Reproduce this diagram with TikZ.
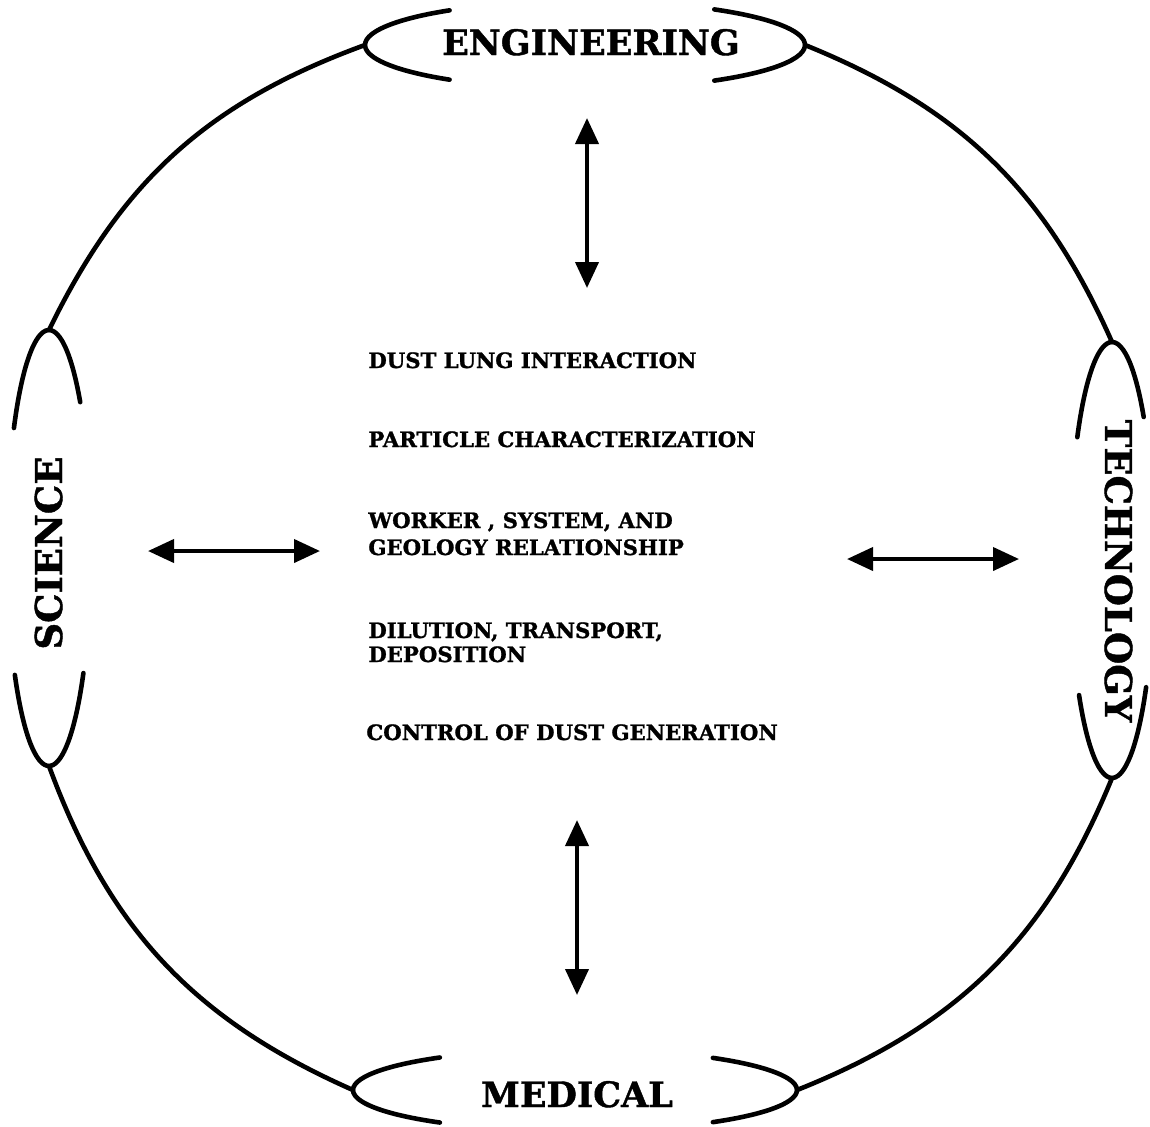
\documentclass[tikz,border=0pt]{standalone}
\usepackage{fontspec}
\setmainfont{DejaVu Serif}[BoldFeatures={FakeBold=1.2}]
\usetikzlibrary{arrows.meta}
\begin{document}
\begin{tikzpicture}[x=0.5pt,y=0.5pt,
  rim/.style={line width=2.3pt, line cap=round},
  dbl/.style={line width=2pt, {Triangle[length=13pt,width=11.5pt]}-{Triangle[length=13pt,width=11.5pt]}},
  title/.style={font=\bfseries\fontsize{17.5}{20}\selectfont, inner sep=0pt, anchor=base},
  sidetitle/.style={font=\bfseries\fontsize{18.5}{22}\selectfont, inner sep=0pt, anchor=base},
  item/.style={font=\bfseries\fontsize{10.6}{13}\selectfont, inner sep=0pt, anchor=base west}]
\useasboundingbox (0,0) rectangle (1150,-1126);

% ellipse centres
\coordinate (Ec) at (585,-45);
\coordinate (Bc) at (575,-1090);
\coordinate (Lc) at (49,-548);
\coordinate (Rc) at (1112,-560);

% ellipse tips where the big circle joins
\coordinate (A) at (365,-45);
\coordinate (H) at (805,-45);
\coordinate (B) at (49,-330);
\coordinate (C) at (49,-766);
\coordinate (D) at (353,-1090);
\coordinate (E) at (797,-1090);
\coordinate (F) at (1112,-778);
\coordinate (G) at (1112,-342);

% top ellipse (ENGINEERING)
\draw[rim] (Ec) ++(128:220 and 44) arc[start angle=128,end angle=232,x radius=220,y radius=44];
\draw[rim] (Ec) ++(-54:220 and 44) arc[start angle=-54,end angle=54,x radius=220,y radius=44];
% bottom ellipse (MEDICAL)
\draw[rim] (Bc) ++(127.5:222 and 41) arc[start angle=127.5,end angle=232.5,x radius=222,y radius=41];
\draw[rim] (Bc) ++(-51.6:222 and 41) arc[start angle=-51.6,end angle=51.6,x radius=222,y radius=41];
% left ellipse (SCIENCE)
\draw[rim] (Lc) ++(42:42 and 218) arc[start angle=42,end angle=146.6,x radius=42,y radius=218];
\draw[rim] (Lc) ++(215.6:42 and 218) arc[start angle=215.6,end angle=325,x radius=42,y radius=218];
% right ellipse (TECHNOLOGY)
\draw[rim] (Rc) ++(41:42 and 218) arc[start angle=41,end angle=145.7,x radius=42,y radius=218];
\draw[rim] (Rc) ++(218.3:42 and 218) arc[start angle=218.3,end angle=324.3,x radius=42,y radius=218];

% big circle arcs
\draw[rim] (A) to[bend right=22] (B);
\draw[rim] (C) to[bend right=23] (D);
\draw[rim] (E) to[bend right=23] (F);
\draw[rim] (G) to[bend right=22] (H);

% titles
\node[title] (eng) at (591,-55) {ENGINEERING};
\node[title] (med) at (577,-1107) {MEDICAL};
\node[sidetitle, rotate=90] (sci) at (62,-553) {SCIENCE};
\node[sidetitle, rotate=-90] (tech) at (1105,-571) {TECHNOLOGY};

% central items
\node[item] (i1) at (368,-368) {DUST LUNG INTERACTION};
\node[item] (i2) at (368,-447) {PARTICLE CHARACTERIZATION};
\node[item] (i3a) at (368,-528) {WORKER , SYSTEM, AND};
\node[item] (i3b) at (368,-555) {GEOLOGY RELATIONSHIP};
\node[item] (i4a) at (368,-638) {DILUTION, TRANSPORT,};
\node[item] (i4b) at (368,-662) {DEPOSITION};
\node[item] (i5) at (366,-740) {CONTROL OF DUST GENERATION};

% arrows
\coordinate (t1) at (587,-118); \coordinate (t2) at (587,-288);
\coordinate (b1) at (577,-820); \coordinate (b2) at (577,-995);
\coordinate (l1) at (148,-551); \coordinate (l2) at (320,-551);
\coordinate (r1) at (847,-559); \coordinate (r2) at (1019,-559);
\draw[dbl] (t1) -- (t2);
\draw[dbl] (b1) -- (b2);
\draw[dbl] (l1) -- (l2);
\draw[dbl] (r1) -- (r2);
\end{tikzpicture}
\end{document}
